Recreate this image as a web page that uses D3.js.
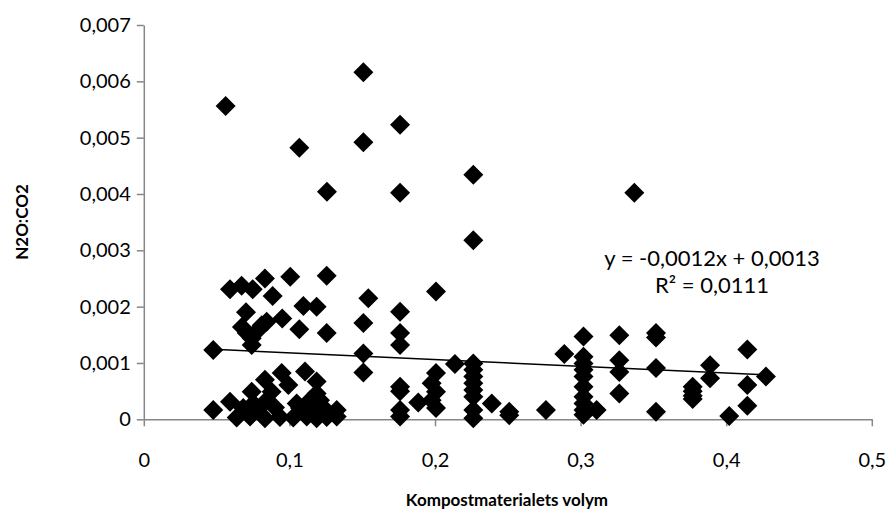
<!DOCTYPE html>
<html>
<head>
<meta charset="utf-8">
<script src="https://cdn.jsdelivr.net/npm/d3@7"></script>
<style>
  html, body { margin: 0; padding: 0; background: #fff; }
  svg { display: block; font-family: Lato, "Open Sans", sans-serif; }
</style>
</head>
<body>
<svg id="chart" width="891" height="529"></svg>
<script>
// Compost volume (x) against N2O:CO2 ratio (y), one entry per measurement
const volume = [
  0.0562, 0.1508, 0.176, 0.1068, 0.1508, 0.1258, 0.176, 0.2263, 0.3369, 0.2263, 0.2007,
  0.0592, 0.0672, 0.0748, 0.0832, 0.0885, 0.1006, 0.1256, 0.1096, 0.1187, 0.0951,
  0.0702, 0.0674, 0.0707, 0.0741, 0.0741, 0.0787, 0.081, 0.0844, 0.1068, 0.1256,
  0.1542, 0.1508, 0.176, 0.176, 0.176, 0.0477, 0.1508, 0.1508,
  0.0477, 0.0592, 0.0741, 0.0832, 0.0947, 0.1107, 0.0878, 0.0993, 0.1187, 0.1187,
  0.1141, 0.0844, 0.1325, 0.1325,
  0.0638, 0.073, 0.0832, 0.0935, 0.1027, 0.1119, 0.1187, 0.1256,
  0.0683, 0.0787, 0.0901, 0.1073, 0.1176, 0.1233,
  0.0752, 0.105, 0.121,
  0.176, 0.176, 0.176, 0.176, 0.1885,
  0.2137, 0.2007, 0.1977, 0.2007, 0.1977, 0.2007,
  0.2263, 0.2263, 0.2263, 0.2263, 0.2263, 0.2263, 0.2263, 0.2263,
  0.239, 0.251, 0.251, 0.2762,
  0.2888, 0.302, 0.302, 0.302, 0.302, 0.302, 0.302, 0.302, 0.302, 0.302, 0.302,
  0.311,
  0.3266, 0.3266, 0.3266, 0.3266,
  0.3518, 0.3518, 0.3518, 0.3518,
  0.377, 0.377, 0.377, 0.377,
  0.3889, 0.3889,
  0.4145, 0.4145, 0.4145,
  0.4021, 0.4273
];
const ratio = [
  0.00556, 0.00616, 0.00523, 0.00482, 0.00492, 0.00404, 0.00402, 0.00434, 0.00402, 0.00318, 0.00227,
  0.00231, 0.00237, 0.00231, 0.00250, 0.00219, 0.00253, 0.00255, 0.00201, 0.00200, 0.00179,
  0.00190, 0.00164, 0.00153, 0.00144, 0.00132, 0.00159, 0.00167, 0.00173, 0.00160, 0.00153,
  0.00215, 0.00171, 0.00191, 0.00153, 0.00132, 0.00123, 0.00117, 0.00083,
  0.000165, 0.00031, 0.00049, 0.00070, 0.00082, 0.00085, 0.00049, 0.00061, 0.00067, 0.00046,
  0.00034, 0.00034, 0.000165, 0.00005,
  0.00003, 0.00005, 0.00002, 0.00004, 0.00003, 0.00005, 0.00002, 0.00004,
  0.00020, 0.00019, 0.00021, 0.00020, 0.00019, 0.00021,
  0.00028, 0.00028, 0.00034,
  0.00058, 0.00050, 0.000165, 0.00005, 0.00030,
  0.00098, 0.00082, 0.00064, 0.00049, 0.00034, 0.00020,
  0.00099, 0.00088, 0.00076, 0.00064, 0.00052, 0.00040, 0.000165, 0.00002,
  0.00028, 0.000135, 0.00007, 0.000165,
  0.00116, 0.00147, 0.00111, 0.00099, 0.00088, 0.00076, 0.00058, 0.00040, 0.00028, 0.000165, 0.00008,
  0.000165,
  0.00149, 0.00105, 0.00084, 0.00046,
  0.00153, 0.00145, 0.00091, 0.000135,
  0.00058, 0.00050, 0.00042, 0.00036,
  0.00096, 0.00073,
  0.00124, 0.00061, 0.00024,
  0.00006, 0.00076
];

const xTicks = [0, 0.1, 0.2, 0.3, 0.4, 0.5];
const yTicks = [0, 0.001, 0.002, 0.003, 0.004, 0.005, 0.006, 0.007];

// Linear trend as reported: y = -0,0012x + 0,0013
const trendSlope = -0.0012;
const trendIntercept = 0.0013;
const trendText = ["y = -0,0012x + 0,0013", "R² = 0,0111"];

const xTitle = "Kompostmaterialets volym";
const yTitle = "N2O:CO2";

const svg = d3.select("#chart");
const plot = { left: 143.8, right: 871.8, top: 25, bottom: 419.3 };

const x = d3.scaleLinear().domain([0, 0.5]).range([plot.left, plot.right]);
const y = d3.scaleLinear().domain([0, 0.007]).range([plot.bottom, plot.top]);

const fmtY = v => (v === 0 ? "0" : d3.format(".3f")(v).replace(".", ","));
const fmtX = v => (v === 0 ? "0" : d3.format(".1f")(v).replace(".", ","));
const axisColor = "#868686";

// X axis
const gx = svg.append("g")
  .attr("transform", `translate(0,${plot.bottom})`)
  .call(d3.axisBottom(x).tickValues(xTicks).tickFormat(fmtX).tickSize(7).tickSizeOuter(0).tickPadding(27));
gx.select(".domain").attr("stroke", axisColor).attr("stroke-width", 1.5);
gx.selectAll(".tick line").attr("stroke", axisColor).attr("stroke-width", 1.5);
gx.selectAll(".tick text").attr("fill", "#000").style("font-size", "20px").style("font-family", "Lato");

// Y axis
const gy = svg.append("g")
  .attr("transform", `translate(${plot.left},0)`)
  .call(d3.axisLeft(y).tickValues(yTicks).tickFormat(fmtY).tickSize(7).tickSizeOuter(0).tickPadding(6));
gy.select(".domain").attr("stroke", axisColor).attr("stroke-width", 1.5);
gy.selectAll(".tick line").attr("stroke", axisColor).attr("stroke-width", 1.5);
gy.selectAll(".tick text").attr("fill", "#000").style("font-size", "20px").style("font-family", "Lato");

// Diamond markers
const data = volume.map((v, i) => ({ x: v, y: ratio[i] }));
const r = 10;
const diamond = `M0,${-r}L${r},0L0,${r}L${-r},0Z`;
svg.append("g")
  .selectAll("path")
  .data(data)
  .join("path")
  .attr("d", diamond)
  .attr("transform", d => `translate(${x(d.x)},${y(d.y)})`)
  .attr("fill", "#000");

// Trend line across the data range
const [x0, x1] = d3.extent(volume);
svg.append("line")
  .attr("x1", x(x0)).attr("y1", y(trendSlope * x0 + trendIntercept))
  .attr("x2", x(x1)).attr("y2", y(trendSlope * x1 + trendIntercept))
  .attr("stroke", "#000").attr("stroke-width", 1.5);

// Trend equation
const eq = svg.append("text")
  .attr("text-anchor", "middle")
  .style("font-size", "22px")
  .attr("fill", "#000");
eq.append("tspan").attr("x", 712).attr("y", 266).text(trendText[0]);
eq.append("tspan").attr("x", 712).attr("y", 293).text(trendText[1]);

// Axis titles
svg.append("text")
  .attr("x", 507).attr("y", 506)
  .attr("text-anchor", "middle")
  .style("font-size", "17px").style("font-weight", "bold")
  .text(xTitle);

svg.append("text")
  .attr("transform", "translate(28,222) rotate(-90)")
  .attr("text-anchor", "middle")
  .style("font-size", "17px").style("font-weight", "bold")
  .text(yTitle);
</script>
</body>
</html>
